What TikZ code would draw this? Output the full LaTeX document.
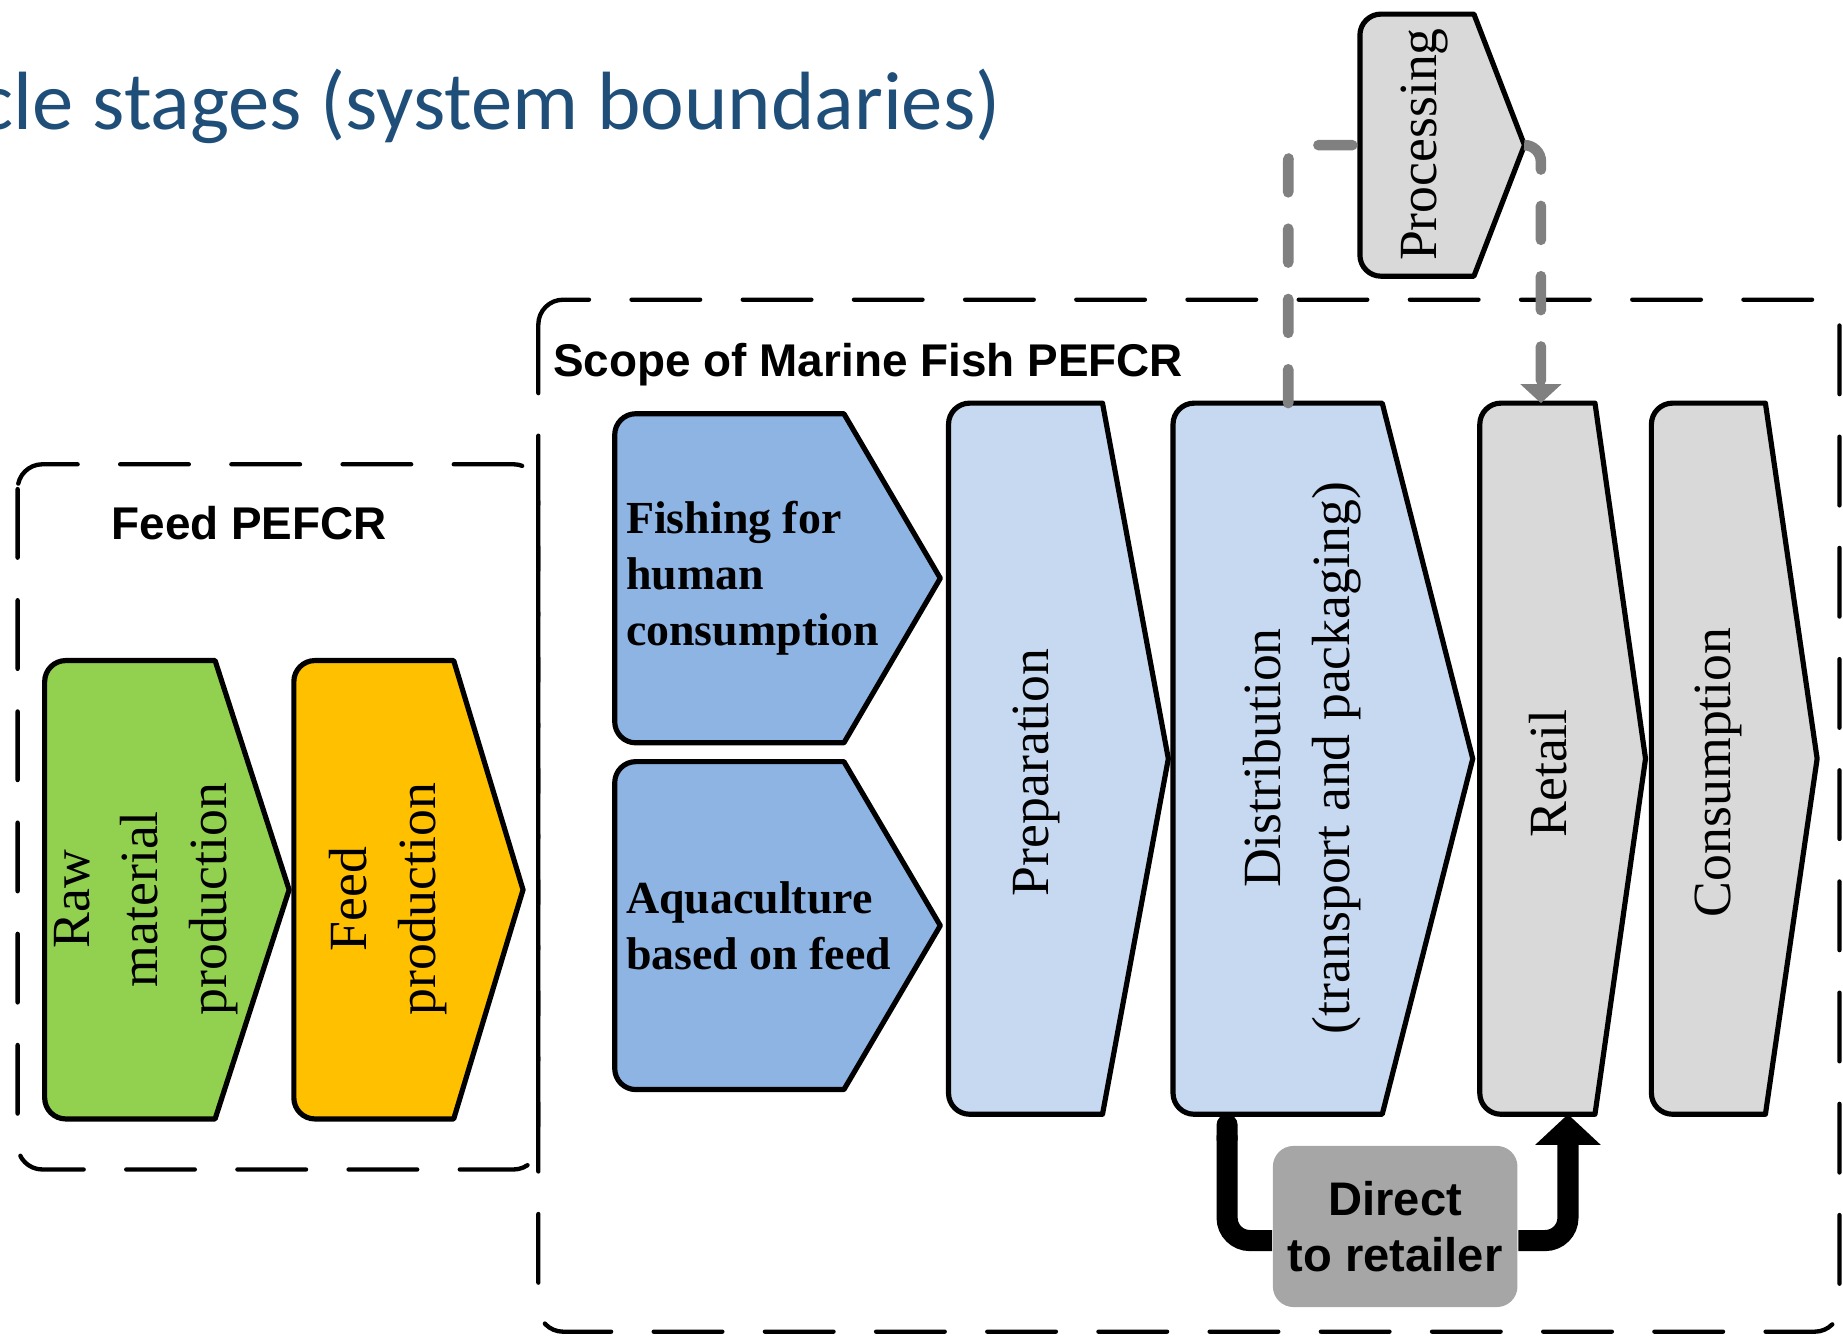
\documentclass[tikz,border=0pt]{standalone}
\usepackage{fontspec}
\setmainfont{Liberation Serif}
\setsansfont{Liberation Sans}
\newfontfamily\titlefont{Carlito}
\usepackage{tikz}
\usetikzlibrary{arrows.meta}
\usetikzlibrary{calc}
\usetikzlibrary{fit}
\definecolor{rawgreen}{HTML}{92D050}
\definecolor{feedorange}{HTML}{FFC000}
\definecolor{fishblue}{HTML}{8EB4E3}
\definecolor{chainblue}{HTML}{C6D9F1}
\definecolor{chaingray}{HTML}{D9D9D9}
\definecolor{directgray}{HTML}{A6A6A6}
\definecolor{linkgray}{HTML}{808080}
\definecolor{titleblue}{HTML}{1F4E79}
\tikzset{
	stage/.style={draw=black,line width=1.25pt,line join=round},
	stagebody/.style={inner sep=0pt,outer sep=0pt},
	stagetext/.style={rotate=90,align=center,inner sep=0pt,font=\fontsize{13}{16.6}\selectfont},
	sourcetext/.style={anchor=west,align=left,inner sep=0pt,font=\bfseries\fontsize{11.1}{13.6}\selectfont},
	boundary/.style={draw=black,line width=1.05pt,line cap=round,dash pattern=on 16.6pt off 10.3pt,rounded corners=6pt},
	boxlabel/.style={inner sep=0pt,font=\sffamily\bfseries\fontsize{11.1}{13.3}\selectfont},
	directbox/.style={fill=directgray,rounded corners=5pt,minimum width=2.08cm,minimum height=1.37cm,
		inner sep=0pt,align=center,font=\sffamily\bfseries\fontsize{11.4}{13.7}\selectfont},
	flow/.style={draw=black,line width=5.1pt,rounded corners=5.5pt},
	procflow/.style={draw=linkgray,line width=2.56pt,line cap=round,dash pattern=on 8.2pt off 8.8pt,rounded corners=4pt},
	heading/.style={inner sep=0pt,anchor=base east,text=titleblue,font=\titlefont\fontsize{20}{24}\selectfont}
}
\newcommand{\lcstage}[7]{%
	\node[stagebody,fit={(#3,-#4) (#5,-#6)}] (#1) {};
	\coordinate (#1-tip) at (#7,{-(#4+#6)/2});
	\draw[stage,fill=#2] (#1.north east) -- (#1-tip) -- (#1.south east) -- ([xshift=5.1pt]#1.south west)
		arc[start angle=270,end angle=180,radius=5.1pt] -- ([yshift=-5.1pt]#1.north west)
		arc[start angle=180,end angle=90,radius=5.1pt] -- cycle;
}

\begin{document}
\begin{tikzpicture}[x=0.01cm,y=0.01cm]
	\useasboundingbox (0,0) rectangle (1568,-1137);
	\node[heading] (title) at (852,-110) {cle stages (system boundaries)};

	\draw[boundary] (15,-395) rectangle (458,-995);
	\draw[boundary] (458,-255) rectangle (1565,-1133);
	\node[boxlabel,anchor=base] (feedlbl) at (212,-459) {Feed PEFCR};
	\node[boxlabel,anchor=base west] (scopelbl) at (470,-320) {Scope of Marine Fish PEFCR};

	\lcstage{raw}{rawgreen}{38}{562}{183}{952}{246}
	\lcstage{feed}{feedorange}{250}{562}{386}{952}{445}
	\lcstage{fish}{fishblue}{523}{352}{718}{632}{800}
	\lcstage{aqua}{fishblue}{523}{648}{718}{927}{800}
	\lcstage{prep}{chainblue}{807}{343}{938}{948}{994}
	\lcstage{dist}{chainblue}{998}{343}{1176}{948}{1253}
	\lcstage{retail}{chaingray}{1259}{343}{1357}{948}{1400}
	\lcstage{cons}{chaingray}{1405}{343}{1502}{948}{1546}
	\lcstage{proc}{chaingray}{1157}{12}{1254}{235}{1297}

	\node[stagetext] (raw-txt) at (124,-765) {Raw\\material\\production};
	\node[stagetext] (feed-txt) at (330,-765) {Feed\\production};
	\node[sourcetext] (fish-txt) at (532,-492) {Fishing for\\human\\consumption};
	\node[sourcetext] (aqua-txt) at (532,-788) {Aquaculture\\based on feed};
	\node[stagetext] (prep-txt) at (882,-657) {Preparation};
	\node[stagetext] (dist-txt) at (1108,-645) {Distribution\\(transport and packaging)};
	\node[stagetext] (retail-txt) at (1317,-658) {Retail};
	\node[stagetext] (cons-txt) at (1462,-657) {Consumption};
	\node[stagetext] (proc-txt) at (1212,-123) {Processing};

	\node[directbox] (direct) at (1187,-1043.5) {Direct\\to retailer};
	\draw[flow,{Round Cap}-] ($(dist.south west)+(46,0)$) |- ([yshift=-3.4pt]direct.west);
	\draw[flow,-{Triangle[width=15.4pt,length=7.4pt]}] ([yshift=-3.4pt]direct.east) -| ($(retail.south west)+(75,0)$);

	\draw[procflow] ($(dist.north west)+(98,0)$) |- (proc.west);
	\draw[procflow,-{Triangle[width=9.7pt,length=4.6pt]}] (proc-tip) -| ($(retail.north west)+(52,0)$);
\end{tikzpicture}
\end{document}
